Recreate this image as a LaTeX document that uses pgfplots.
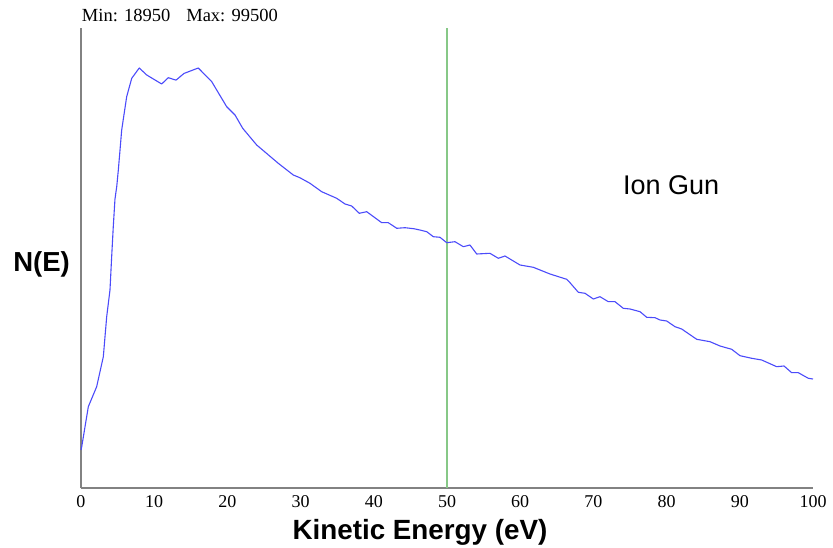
\documentclass[border=0pt]{standalone}
\usepackage{pgfplots}
\pgfplotsset{compat=1.18}
\usepackage{fontspec}
\setmainfont{Liberation Serif}
\newfontfamily\arial{Liberation Sans}
\definecolor{specblue}{RGB}{75,75,250}
\definecolor{markgreen}{RGB}{135,200,135}
\definecolor{axgray}{RGB}{130,130,130}
\begin{document}
\begin{tikzpicture}
\path[use as bounding box] (-81pt,-60pt) rectangle (752pt,488pt);
\begin{axis}[
  at={(0,0)}, anchor=south west,
  scale only axis, width=732pt, height=460pt,
  xmin=0, xmax=100, ymin=10937, ymax=107933,
  axis x line=bottom, axis y line=left,
  x axis line style={-, axgray, line width=1.5pt},
  y axis line style={-, axgray, line width=2pt},
  xtick={0,10,...,100}, ytick=\empty,
  major tick length=0pt,
  /pgf/number format/assume math mode=true,
  xticklabel style={font=\fontsize{18}{20}\selectfont, anchor=base, yshift=-20pt, inner sep=0pt},
  xlabel={Kinetic Energy (eV)},
  every axis x label/.style={at={(axis description cs:0.5,0)}, anchor=base, xshift=-27pt, yshift=-52pt, font=\arial\bfseries\fontsize{27.8}{30}\selectfont, inner sep=0pt},
  ylabel={N(E)},
  every axis y label/.style={at={(axis description cs:0,0.4717)}, anchor=base east, xshift=-11pt, font=\arial\bfseries\fontsize{27.5}{30}\selectfont, inner sep=0pt},
  clip=false,
]
\addplot[markgreen, line width=1.2pt] coordinates {(50,10937) (50,107933)};
\addplot[specblue, line width=1.1pt, line join=round] coordinates {
(0,18950) (0.1,19646) (1.0,28080) (2.14,32297) (3.05,38623) (3.51,47058)
(3.96,52688) (4.19,59710) (4.41,66036) (4.64,71837) (4.88,74470) (5.10,77991)
(5.56,86425) (6.24,93447) (6.93,97327) (7.96,99500) (8.98,98023) (11.02,96125)
(11.93,97453) (12.98,96937) (14.07,98350) (16.02,99500) (17.86,96610) (19.9,91339)
(21.04,89589) (22.09,86784) (24.0,83262) (26.95,79404) (29.0,76937) (29.9,76365)
(31.28,75187) (32.88,73415) (34.93,72023) (36.07,70822) (36.98,70400) (38.02,68861)
(39.03,69198) (41.08,66878) (41.98,66878) (43.13,65698) (44.26,65824) (45.5,65600)
(46.4,65300) (47.23,64981) (48.13,63926) (49.04,63800) (49.96,62661) (51.09,62872)
(52.23,61818) (53.14,62176) (54.06,60279) (55.87,60426) (57.01,59372) (57.92,59857)
(59.97,57959) (61.79,57474) (64.07,56061) (66.35,54944) (66.80,54227) (67.94,52203)
(68.85,51992) (69.99,50790) (70.90,51275) (72.04,50221) (72.95,50221) (74.08,48829)
(75.0,48681) (76.37,48112) (77.28,46931) (78.42,46847) (79.10,46362) (80.01,46151)
(81.15,44949) (82.06,44464) (84.11,42292) (85.93,41786) (87.30,40879) (88.89,40184)
(90.03,38834) (91.63,38286) (92.99,37927) (95.04,36515) (96.04,36662) (97.09,35250)
(97.99,35250) (99.36,34069) (100,33921)
};
\node[anchor=base west, inner sep=0pt, font=\arial\fontsize{27}{30}\selectfont] at (axis cs:74.04,72719) {Ion Gun};
\node[anchor=base west, inner sep=0pt, font=\fontsize{18.5}{20}\selectfont] at (rel axis cs:0.001,1) [yshift=6pt] {Min: 18950\hspace{16pt}Max: 99500};
\end{axis}
\end{tikzpicture}
\end{document}
